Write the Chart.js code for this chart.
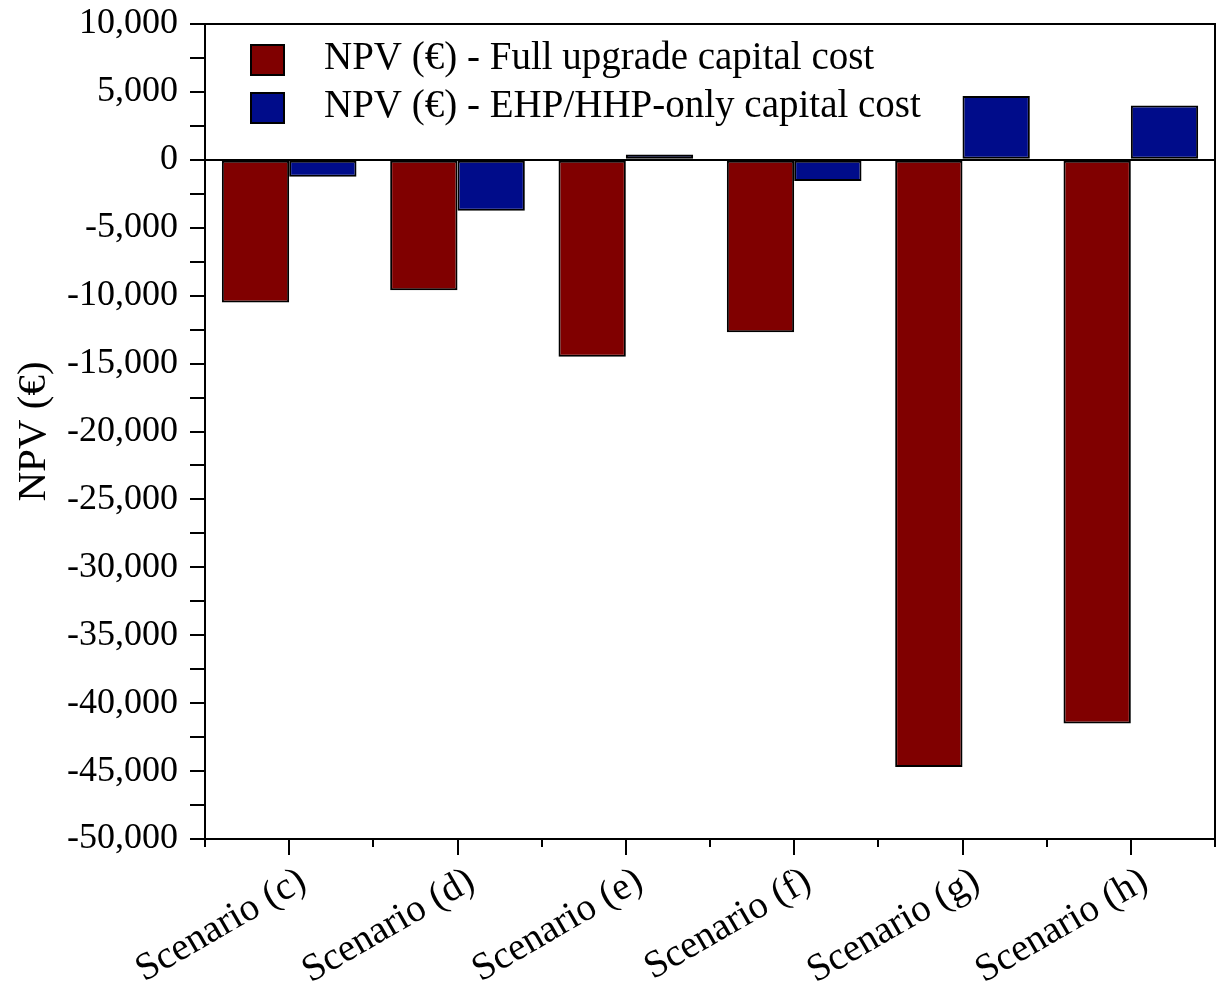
<!DOCTYPE html>
<html>
<head>
<meta charset="utf-8">
<script src="https://cdn.jsdelivr.net/npm/chart.js@4/dist/chart.umd.min.js"></script>
<style>
  html, body { margin: 0; padding: 0; background: #fff; }
  #wrap { width: 1217px; height: 987px; }
</style>
</head>
<body>
<div id="wrap"><canvas id="c" width="1217" height="987"></canvas></div>
<script>
const categories = ['Scenario (c)', 'Scenario (d)', 'Scenario (e)', 'Scenario (f)', 'Scenario (g)', 'Scenario (h)'];
const seriesNames = ['NPV (€) - Full upgrade capital cost', 'NPV (€) - EHP/HHP-only capital cost'];
const fullUpgrade = [-10500, -9600, -14500, -12700, -44700, -41500];
const ehpOnly = [-1250, -3750, 400, -1550, 4700, 4000];
const yMin = -50000, yMax = 10000, yMinorStep = 2500, yMajorStep = 5000;
const yTitle = 'NPV (€)';

const FONT = "'Liberation Serif', 'Times New Roman', serif";

const framePlugin = {
  id: 'frame',
  afterDraw(chart) {
    const ctx = chart.ctx, a = chart.chartArea, x = chart.scales.x;
    ctx.save();
    ctx.strokeStyle = '#000';
    ctx.lineWidth = 2;
    ctx.beginPath();
    ctx.moveTo(a.left, a.top);
    ctx.lineTo(a.right, a.top);
    ctx.lineTo(a.right, a.bottom);
    ctx.stroke();
    const half = (x.getPixelForValue(1) - x.getPixelForValue(0)) / 2;
    ctx.beginPath();
    for (let i = 0; i <= categories.length; i++) {
      const px = Math.round(x.getPixelForValue(0) - half + i * 2 * half);
      ctx.moveTo(px, a.bottom);
      ctx.lineTo(px, a.bottom + 8);
    }
    ctx.stroke();
    ctx.font = '39px ' + FONT;
    ctx.textBaseline = 'middle';
    ctx.textAlign = 'left';
    chart.data.datasets.forEach((ds, i) => {
      const bx = a.left + 46, by = a.top + 21 + i * 48;
      ctx.fillStyle = ds.backgroundColor;
      ctx.fillRect(bx, by, 33, 30);
      ctx.strokeRect(bx, by, 33, 30);
      ctx.fillStyle = '#000';
      ctx.fillText(ds.label, bx + 73, by + 14);
    });
    ctx.restore();
  }
};

new Chart(document.getElementById('c'), {
  type: 'bar',
  data: {
    labels: categories,
    datasets: [
      { label: seriesNames[0], data: fullUpgrade, backgroundColor: '#800000', borderColor: '#000', borderWidth: 2, borderSkipped: false },
      { label: seriesNames[1], data: ehpOnly, backgroundColor: '#000C8A', borderColor: '#000', borderWidth: 2, borderSkipped: false }
    ]
  },
  options: {
    responsive: false,
    animation: false,
    devicePixelRatio: 1,
    layout: { padding: { top: 24, right: 2, left: 0, bottom: 0 } },
    datasets: { bar: { categoryPercentage: 0.8, barPercentage: 1.0 } },
    plugins: { legend: { display: false }, tooltip: { enabled: false } },
    scales: {
      x: {
        offset: true,
        grid: { offset: false, drawOnChartArea: false, tickLength: 16, tickColor: '#000', lineWidth: 2 },
        border: { display: true, color: '#000', width: 2 },
        ticks: { color: '#000', font: { family: FONT, size: 39 }, minRotation: 30, maxRotation: 30, padding: 3, labelOffset: 14, autoSkip: false },
        afterFit(s) { s.height = 148; }
      },
      y: {
        min: yMin, max: yMax,
        grid: {
          drawOnChartArea: true,
          color: c => (c.tick && c.tick.value === 0) ? '#000' : 'rgba(0,0,0,0)',
          tickColor: '#000', tickLength: 15, lineWidth: 2
        },
        border: { display: true, color: '#000', width: 2 },
        ticks: {
          stepSize: yMinorStep, autoSkip: false, color: '#000', padding: 12,
          font: { family: FONT, size: 36 },
          callback: v => (v % yMajorStep === 0) ? v.toLocaleString('en-US') : ''
        },
        title: { display: true, text: yTitle, color: '#000', font: { family: FONT, size: 41 }, padding: { top: 10, bottom: 0 } },
        afterFit(s) { s.width = 205; s.paddingTop = 0; s.paddingBottom = 0; }
      }
    }
  },
  plugins: [framePlugin]
});
</script>
</body>
</html>
